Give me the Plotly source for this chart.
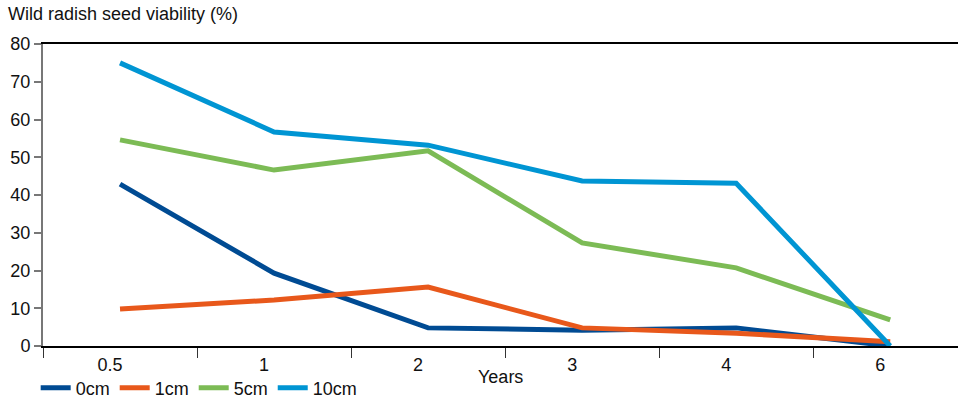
import plotly.graph_objects as go

years = ["0.5", "1", "2", "3", "4", "6"]
series_names = ["0cm", "1cm", "5cm", "10cm"]
v_0cm = [42.9, 19.3, 4.8, 4.2, 4.8, 0.0]
v_1cm = [9.8, 12.2, 15.6, 4.8, 3.4, 1.1]
v_5cm = [54.6, 46.6, 51.7, 27.3, 20.7, 6.9]
v_10cm = [75.0, 56.7, 53.2, 43.7, 43.1, 0.0]
colors = ["#004B93", "#E8581B", "#7CBB55", "#0095D3"]
y_ticks = [0, 10, 20, 30, 40, 50, 60, 70, 80]

FONT = "Liberation Sans, Arial, sans-serif"
TXT = "#111111"
FS = 18

xi = list(range(len(years)))
fig = go.Figure()
for name, vals, col in zip(series_names, [v_0cm, v_1cm, v_5cm, v_10cm], colors):
    fig.add_trace(go.Scatter(x=xi, y=vals, name=name, mode="lines",
                             line=dict(color=col, width=5)))

fig.update_layout(
    width=958, height=401,
    margin=dict(l=43, r=0, t=44, b=55, autoexpand=False),
    paper_bgcolor="white", plot_bgcolor="white",
    font=dict(family=FONT, size=FS, color=TXT),
    showlegend=True,
    legend=dict(orientation="h", x=-0.008, y=-0.139, xanchor="left", yanchor="middle",
                font=dict(size=FS, color=TXT), bgcolor="rgba(0,0,0,0)",
                itemwidth=30, tracegroupgap=0),
    xaxis=dict(range=[-0.5, 5.44], tickmode="array",
               tickvals=[i - 0.065 for i in xi], ticktext=years,
               ticks="", showgrid=False, zeroline=False,
               showline=True, linecolor="black", linewidth=1.5, mirror=True,
               ticklabelstandoff=2,
               tickfont=dict(size=FS, color=TXT),
               minor=dict(tickmode="array", tickvals=[i - 0.5 for i in xi],
                          ticks="outside", ticklen=10, tickcolor="#333333",
                          tickwidth=1.2, showgrid=False)),
    yaxis=dict(range=[0, 80], tickmode="array", tickvals=y_ticks,
               ticks="outside", ticklen=7, tickcolor="#777777", tickwidth=1.5,
               showline=True, linecolor="#777777", linewidth=2,
               showgrid=False, zeroline=False,
               tickfont=dict(size=FS, color=TXT)),
    annotations=[
        dict(text="Wild radish seed viability (%)", xref="paper", yref="paper",
             x=-0.040, y=1.099, xanchor="left", yanchor="middle", showarrow=False,
             font=dict(size=FS, color=TXT)),
        dict(text="Years", xref="paper", yref="paper",
             x=0.5, y=-0.103, xanchor="center", yanchor="middle", showarrow=False,
             font=dict(size=FS, color=TXT)),
    ],
)

fig.write_html("out.html", config={"displayModeBar": False},
               post_script="document.body.style.margin='0';")
